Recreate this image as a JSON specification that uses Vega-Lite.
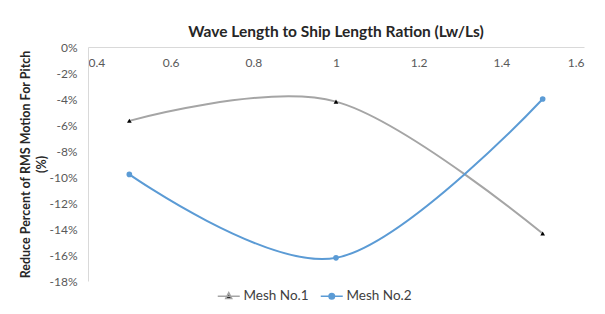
{
  "$schema": "https://vega.github.io/schema/vega-lite/v6.json",
  "width": 496,
  "height": 234,
  "autosize": {"type": "none"},
  "padding": {"left": 88, "top": 47, "right": 21, "bottom": 33},
  "background": "white",
  "config": {"view": {"stroke": null}, "font": "Lato"},
  "title": {"text": "Wave Length to Ship Length Ration (Lw/Ls)", "fontSize": 15.5, "fontWeight": "bold", "font": "Lato", "color": "#262626", "offset": 1},
  "data": {"values": [
    {"series": "Mesh No.1", "ratio": 0.5, "value": -5.68},
    {"series": "Mesh No.1", "ratio": 1.0, "value": -4.2},
    {"series": "Mesh No.1", "ratio": 1.5, "value": -14.35},
    {"series": "Mesh No.2", "ratio": 0.5, "value": -9.8},
    {"series": "Mesh No.2", "ratio": 1.0, "value": -16.22},
    {"series": "Mesh No.2", "ratio": 1.5, "value": -4.0}
  ]},
  "encoding": {
    "x": {"field": "ratio", "type": "quantitative",
      "scale": {"domain": [0.4, 1.6], "nice": false, "zero": false},
      "axis": {"orient": "bottom", "offset": -234, "title": null, "grid": false, "ticks": false,
        "values": [0.4, 0.6, 0.8, 1.0, 1.2, 1.4, 1.6], "labelExpr": "datum.value == 1 ? '1' : format(datum.value, '.1f')",
        "domainColor": "#D9D9D9", "labelColor": "#595959", "labelFontSize": 12, "labelPadding": 10, "labelFont": "Lato"}},
    "y": {"field": "value", "type": "quantitative",
      "scale": {"domain": [-18, 0], "nice": false, "zero": false},
      "axis": {"title": ["Reduce Percent of RMS Motion For Pitch", "(%)"], "titleFontSize": 12.5, "titleFontWeight": "bold", "titleColor": "#262626", "titleFont": "Lato", "titlePadding": 1, "titleLineHeight": 16,
        "grid": false, "ticks": false, "values": [0, -2, -4, -6, -8, -10, -12, -14, -16, -18],
        "labelExpr": "datum.value + '%'", "domainColor": "#D9D9D9", "labelColor": "#595959", "labelFontSize": 12, "labelPadding": 11, "labelFont": "Lato"}}
  },
  "layer": [
    {"mark": {"type": "line", "interpolate": "cardinal", "strokeWidth": 2},
      "encoding": {"color": {"field": "series", "type": "nominal",
        "scale": {"domain": ["Mesh No.1", "Mesh No.2"], "range": ["#A5A5A5", "#5B9BD5"]},
        "legend": {"title": null, "orient": "none", "legendX": 134, "legendY": 242, "direction": "horizontal", "labelFontSize": 13.5, "labelColor": "#404040", "labelFont": "Lato", "columnPadding": 8, "symbolSize": 100, "symbolStrokeWidth": 1.5, "labelOffset": 8,
          "encode": {"symbols": {"update": {
            "shape": {"signal": "datum.value === 'Mesh No.1' ? 'M-2.2,0H2.2M0,-0.7L0.6,0.45H-0.6Z' : 'M-2.2,0H2.2M0.55,0A0.55,0.55,0,1,1,-0.55,0A0.55,0.55,0,1,1,0.55,0Z'"},
            "fill": {"signal": "datum.value === 'Mesh No.1' ? '#000000' : '#5B9BD5'"},
            "stroke": {"signal": "datum.value === 'Mesh No.1' ? '#A5A5A5' : '#5B9BD5'"},
            "fillOpacity": {"value": 1}
          }}}}}}},
    {"transform": [{"filter": "datum.series === 'Mesh No.1'"}],
      "mark": {"type": "point", "shape": "triangle-up", "filled": true, "color": "#000000", "size": 22, "opacity": 1}},
    {"transform": [{"filter": "datum.series === 'Mesh No.2'"}],
      "mark": {"type": "point", "shape": "circle", "filled": true, "color": "#5B9BD5", "size": 32, "opacity": 1}}
  ]
}
